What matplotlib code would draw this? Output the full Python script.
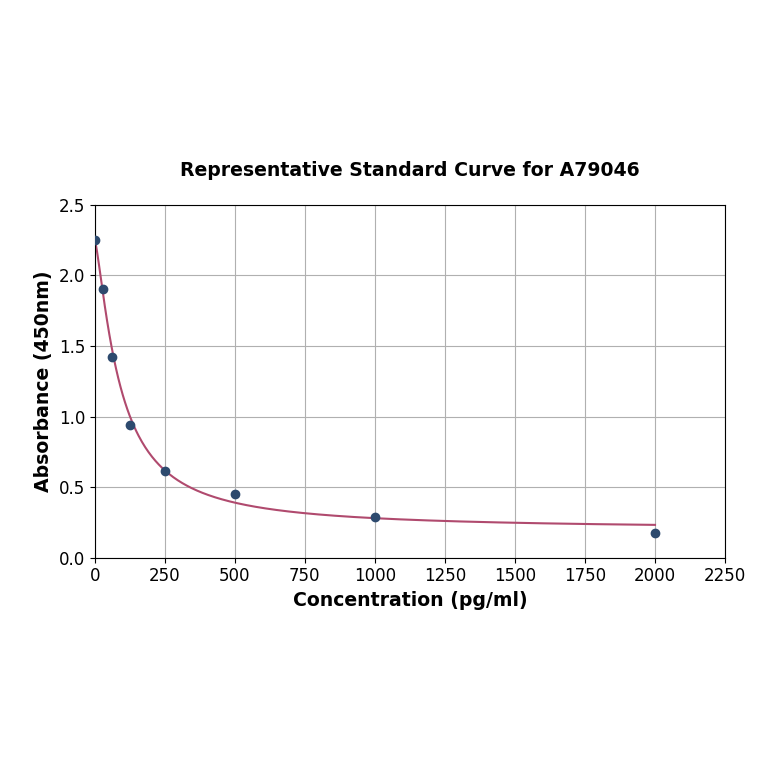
import numpy as np
import matplotlib
matplotlib.use('Agg')
import matplotlib.pyplot as plt

# standard points
conc = [0, 31.25, 62.5, 125, 250, 500, 1000, 2000]
absorb = [2.25, 1.90, 1.42, 0.94, 0.615, 0.45, 0.29, 0.177]

# 4PL fit parameters (top, bottom, ec50, slope)
top, bottom, ec50, slope = 2.25, 0.20, 90.0, 1.33

xs = np.linspace(0, max(conc), 500)
ys = bottom + (top - bottom) / (1 + (xs / ec50) ** slope)

fig = plt.figure(figsize=(7.64, 7.64), dpi=100)
ax = fig.add_axes([0.124, 0.270, 0.825, 0.462])

ax.plot(xs, ys, color='#b04a6e', lw=1.5, zorder=2)
ax.scatter(conc, absorb, s=36, color='#2d4a6e', zorder=3)

ax.set_xlim(0, 2250)
ax.set_ylim(0, 2.5)
ax.set_xticks(np.arange(0, 2251, 250))
ax.set_yticks(np.arange(0, 2.51, 0.5))
ax.grid(True, color='#b0b0b0', lw=0.8)
ax.set_axisbelow(True)
ax.tick_params(labelsize=12)

ax.set_title('Representative Standard Curve for A79046', fontsize=13.6, fontweight='bold', pad=21)
ax.set_xlabel('Concentration (pg/ml)', fontsize=13.6, fontweight='bold')
ax.set_ylabel('Absorbance (450nm)', fontsize=13.6, fontweight='bold')

fig.savefig('out.png', dpi=100)
